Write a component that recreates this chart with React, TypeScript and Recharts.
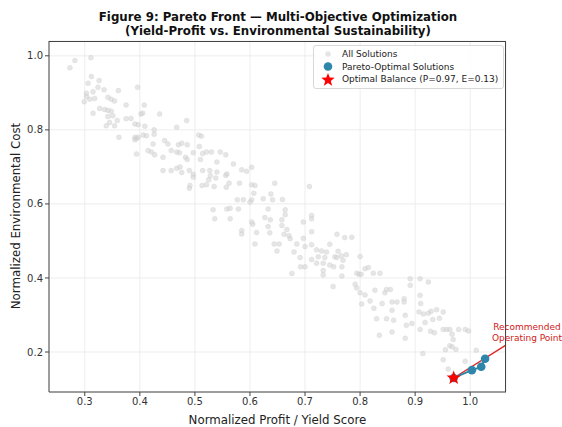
import { ScatterChart, Scatter, XAxis, YAxis, CartesianGrid, ReferenceLine } from 'recharts';

// all solutions (profit score, environmental cost)
const allProfit = [
  0.273, 0.282, 0.311, 0.312, 0.306, 0.326, 0.324, 0.315, 0.303, 0.303, 0.309, 0.318, 0.335, 0.342, 0.348, 0.354,
  0.361, 0.299, 0.327, 0.315, 0.336, 0.342, 0.348, 0.351, 0.342, 0.339, 0.345, 0.354, 0.359, 0.375, 0.375, 0.384,
  0.362, 0.396, 0.408, 0.402, 0.405, 0.391, 0.397, 0.409, 0.391, 0.394, 0.397, 0.391, 0.406, 0.412, 0.426, 0.426,
  0.394, 0.436, 0.424, 0.445, 0.451, 0.415, 0.421, 0.427, 0.442, 0.457, 0.442, 0.457, 0.467, 0.485, 0.47, 0.476,
  0.486, 0.467, 0.472, 0.483, 0.486, 0.467, 0.473, 0.476, 0.49, 0.497, 0.497, 0.491, 0.49, 0.507, 0.512, 0.508,
  0.497, 0.514, 0.521, 0.51, 0.53, 0.546, 0.54, 0.514, 0.527, 0.54, 0.528, 0.538, 0.525, 0.513, 0.521, 0.535,
  0.556, 0.57, 0.585, 0.594, 0.603, 0.558, 0.556, 0.562, 0.557, 0.581, 0.603, 0.609, 0.645, 0.607, 0.638, 0.624,
  0.603, 0.6, 0.588, 0.577, 0.641, 0.659, 0.708, 0.533, 0.536, 0.558, 0.564, 0.564, 0.579, 0.603, 0.605, 0.612,
  0.585, 0.585, 0.609, 0.627, 0.633, 0.637, 0.633, 0.636, 0.644, 0.653, 0.649, 0.658, 0.664, 0.664, 0.658, 0.667,
  0.662, 0.671, 0.673, 0.685, 0.68, 0.697, 0.697, 0.7, 0.691, 0.692, 0.7, 0.676, 0.712, 0.712, 0.712, 0.712,
  0.721, 0.73, 0.739, 0.724, 0.712, 0.721, 0.736, 0.733, 0.733, 0.733, 0.745, 0.758, 0.772, 0.76, 0.754, 0.758,
  0.766, 0.775, 0.769, 0.752, 0.767, 0.745, 0.767, 0.785, 0.8, 0.809, 0.815, 0.824, 0.836, 0.798, 0.802, 0.794,
  0.791, 0.794, 0.8, 0.809, 0.803, 0.818, 0.827, 0.825, 0.83, 0.835, 0.751, 0.84, 0.845, 0.848, 0.855, 0.848,
  0.858, 0.858, 0.861, 0.858, 0.867, 0.88, 0.88, 0.882, 0.884, 0.882, 0.894, 0.891, 0.891, 0.909, 0.924, 0.909,
  0.91, 0.907, 0.915, 0.918, 0.909, 0.914, 0.924, 0.929, 0.932, 0.928, 0.935, 0.939, 0.944, 0.951, 0.951, 0.957,
  0.963, 0.967, 0.979, 0.991, 0.969, 0.963, 0.967, 0.974, 0.955, 0.951, 0.96, 0.991, 0.997, 1.011,
];
const allCost = [
  0.968, 0.987, 0.995, 0.944, 0.926, 0.933, 0.915, 0.903, 0.899, 0.89, 0.883, 0.885, 0.908, 0.888, 0.883, 0.878,
  0.906, 0.876, 0.858, 0.845, 0.855, 0.853, 0.85, 0.838, 0.836, 0.811, 0.82, 0.811, 0.825, 0.867, 0.83, 0.831,
  0.78, 0.915, 0.867, 0.843, 0.845, 0.816, 0.814, 0.81, 0.78, 0.777, 0.78, 0.773, 0.786, 0.784, 0.8, 0.788,
  0.735, 0.843, 0.762, 0.771, 0.762, 0.744, 0.74, 0.733, 0.726, 0.744, 0.69, 0.69, 0.807, 0.825, 0.76, 0.764,
  0.76, 0.74, 0.738, 0.726, 0.72, 0.696, 0.7, 0.685, 0.69, 0.68, 0.672, 0.65, 0.642, 0.786, 0.783, 0.755,
  0.738, 0.736, 0.74, 0.72, 0.74, 0.74, 0.713, 0.69, 0.69, 0.686, 0.676, 0.67, 0.665, 0.65, 0.652, 0.647,
  0.733, 0.708, 0.692, 0.688, 0.699, 0.681, 0.677, 0.656, 0.645, 0.656, 0.652, 0.65, 0.656, 0.629, 0.627, 0.614,
  0.611, 0.605, 0.611, 0.611, 0.611, 0.612, 0.647, 0.584, 0.56, 0.586, 0.588, 0.56, 0.586, 0.551, 0.545, 0.523,
  0.528, 0.519, 0.492, 0.563, 0.586, 0.557, 0.539, 0.522, 0.492, 0.492, 0.473, 0.557, 0.584, 0.571, 0.542, 0.531,
  0.518, 0.514, 0.506, 0.492, 0.47, 0.551, 0.507, 0.485, 0.455, 0.43, 0.43, 0.412, 0.569, 0.56, 0.525, 0.49,
  0.476, 0.473, 0.47, 0.457, 0.45, 0.44, 0.455, 0.44, 0.42, 0.408, 0.491, 0.518, 0.509, 0.472, 0.457, 0.455,
  0.46, 0.463, 0.448, 0.43, 0.43, 0.435, 0.405, 0.51, 0.458, 0.425, 0.428, 0.413, 0.413, 0.41, 0.41, 0.413,
  0.383, 0.373, 0.36, 0.354, 0.33, 0.338, 0.367, 0.318, 0.29, 0.245, 0.377, 0.331, 0.36, 0.369, 0.369, 0.29,
  0.335, 0.313, 0.286, 0.254, 0.335, 0.344, 0.335, 0.299, 0.272, 0.237, 0.277, 0.398, 0.38, 0.398, 0.389, 0.353,
  0.331, 0.308, 0.303, 0.28, 0.261, 0.196, 0.305, 0.31, 0.288, 0.256, 0.252, 0.314, 0.291, 0.308, 0.261, 0.261,
  0.261, 0.248, 0.261, 0.261, 0.234, 0.217, 0.214, 0.207, 0.206, 0.179, 0.154, 0.175, 0.257, 0.205,
];

const paretoProfit = [0.97, 1.003, 1.02, 1.027];
const paretoCost = [0.13, 0.151, 0.16, 0.182];

const bestProfit = 0.97;
const bestCost = 0.13;

const xTicks = [0.3, 0.4, 0.5, 0.6, 0.7, 0.8, 0.9, 1.0];
const yTicks = [0.2, 0.4, 0.6, 0.8, 1.0];

const allData = allProfit.map((p, i) => ({ p, e: allCost[i] }));
const paretoData = paretoProfit.map((p, i) => ({ p, e: paretoCost[i] }));
const bestData = [{ p: bestProfit, e: bestCost }];

const font = '"DejaVu Sans", sans-serif';

function starPath(cx: number, cy: number, R: number) {
  const r = R * 0.42;
  let d = '';
  for (let i = 0; i < 10; i++) {
    const rad = i % 2 === 0 ? R : r;
    const a = -Math.PI / 2 + (i * Math.PI) / 5;
    d += (i === 0 ? 'M' : 'L') + (cx + rad * Math.cos(a)) + ',' + (cy + rad * Math.sin(a));
  }
  return d + 'Z';
}

const GrayDot = (props: any) => (
  <circle cx={props.cx} cy={props.cy} r={2.5} fill="#d2d2d2" fillOpacity={0.55} stroke="#c4c4c4" strokeOpacity={0.4} strokeWidth={0.5} />
);
const BlueDot = (props: any) => <circle cx={props.cx} cy={props.cy} r={4.3} fill="#2E86AB" />;
const Star = (props: any) => <path d={starPath(props.cx, props.cy, 7.5)} fill="#ff0000" />;

export default function App() {
  return (
    <div style={{ position: 'absolute', left: 0, top: 0, width: 562, height: 427, background: '#fff', fontFamily: font }}>
      <div style={{ position: 'absolute', left: 0, top: 11, width: 556, textAlign: 'center', fontWeight: 'bold', fontSize: 11.8, lineHeight: '13.5px', color: '#111' }}>
        Figure 9: Pareto Front — Multi-Objective Optimization
        <br />
        (Yield-Profit vs. Environmental Sustainability)
      </div>
      <ScatterChart width={562} height={427} margin={{ top: 41, right: 56, left: 0, bottom: 0 }} style={{ position: 'absolute', left: 0, top: 0 }}>
        <CartesianGrid stroke="#e8e8e8" strokeWidth={0.8} />
        <XAxis
          type="number"
          dataKey="p"
          domain={[0.235, 1.065]}
          ticks={xTicks}
          allowDataOverflow
          height={35}
          tickFormatter={(v) => v.toFixed(1)}
          tick={{ fontSize: 10, fill: '#333', fontFamily: font }}
          tickSize={4}
          tickLine={{ stroke: '#444' }}
          axisLine={{ stroke: '#444' }}
        />
        <YAxis
          type="number"
          dataKey="e"
          domain={[0.092, 1.04]}
          ticks={yTicks}
          allowDataOverflow
          width={49}
          tickFormatter={(v) => v.toFixed(1)}
          tick={{ fontSize: 10, fill: '#333', fontFamily: font }}
          tickSize={4}
          tickLine={{ stroke: '#444' }}
          axisLine={{ stroke: '#444' }}
        />
        <Scatter data={allData} shape={GrayDot} isAnimationActive={false} />
        <Scatter data={paretoData} shape={BlueDot} line={{ stroke: '#2E86AB', strokeWidth: 2 }} isAnimationActive={false} />
        <ReferenceLine
          segment={[{ x: bestProfit, y: bestCost }, { x: 1.064, y: 0.218 }]}
          stroke="#e02020"
          strokeWidth={1.3}
          ifOverflow="visible"
        />
        <Scatter data={bestData} shape={Star} isAnimationActive={false} />
      </ScatterChart>
      {/* top and right spines */}
      <div style={{ position: 'absolute', left: 49, top: 41, width: 457, height: 351, borderTop: '1px solid #444', borderRight: '1px solid #444', boxSizing: 'border-box', pointerEvents: 'none' }} />
      <div style={{ position: 'absolute', left: 313, top: 45, width: 189, height: 42, border: '1px solid #d8d8d8', borderRadius: 3, background: 'rgba(255,255,255,0.85)', fontSize: 9, color: '#222' }}>
        <svg width={30} height={42} style={{ position: 'absolute', left: 0, top: 0 }}>
          <circle cx={14} cy={8} r={2.5} fill="#d2d2d2" fillOpacity={0.55} stroke="#c4c4c4" strokeOpacity={0.4} strokeWidth={0.5} />
          <circle cx={14} cy={20.5} r={4.3} fill="#2E86AB" />
          <path d={starPath(14, 34, 7)} fill="#ff0000" />
        </svg>
        <div style={{ position: 'absolute', left: 28, top: 2, lineHeight: '12.5px', whiteSpace: 'nowrap' }}>
          All Solutions
          <br />
          Pareto-Optimal Solutions
          <br />
          Optimal Balance (P=0.97, E=0.13)
        </div>
      </div>
      <div style={{ position: 'absolute', left: 487, top: 322, width: 80, textAlign: 'center', fontSize: 9, lineHeight: '10.5px', color: '#d02020' }}>
        Recommended
        <br />
        Operating Point
      </div>
      <div style={{ position: 'absolute', left: 49, top: 413, width: 457, textAlign: 'center', fontSize: 11.8, color: '#222' }}>
        Normalized Profit / Yield Score
      </div>
      <div style={{ position: 'absolute', left: 16, top: 216, width: 0, height: 0 }}>
        <div style={{ position: 'absolute', transform: 'translate(-50%, -50%) rotate(-90deg)', whiteSpace: 'nowrap', fontSize: 11.8, color: '#222' }}>
          Normalized Environmental Cost
        </div>
      </div>
    </div>
  );
}
